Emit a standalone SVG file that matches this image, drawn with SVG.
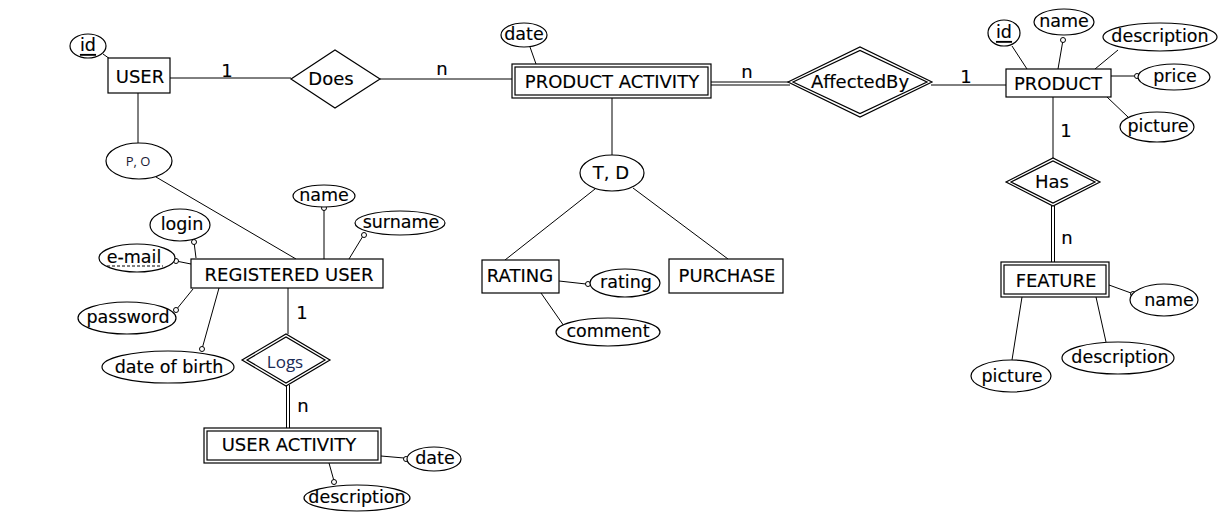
<svg xmlns="http://www.w3.org/2000/svg" width="1228" height="522" viewBox="0 0 1228 522">
<style>
.s{fill:#fff;stroke:#000;stroke-width:1.2}
.l{fill:none;stroke:#000;stroke-width:1}
.t{font-family:"DejaVu Sans",sans-serif;font-size:18px;fill:#000;stroke:#000;stroke-width:0.15;text-anchor:middle;dominant-baseline:central}
.a{font-family:"DejaVu Sans",sans-serif;font-size:17.5px;fill:#000;stroke:#000;stroke-width:0.15;text-anchor:middle;dominant-baseline:central}
.c{fill:#fff;stroke:#000;stroke-width:1}
</style>
<rect width="1228" height="522" fill="#fff"/>
<g id="connectors">
<line class="l" x1="170" y1="78" x2="291" y2="78"/>
<line class="l" x1="380" y1="79" x2="512" y2="79"/>
<line class="l" x1="711" y1="82" x2="790" y2="82"/>
<line class="l" x1="711" y1="85" x2="790" y2="85"/>
<line class="l" x1="931" y1="85" x2="1006" y2="85"/>
<line class="l" x1="1053" y1="97" x2="1053" y2="158"/>
<line class="l" x1="1051.5" y1="206" x2="1051.5" y2="262"/>
<line class="l" x1="1054.5" y1="206" x2="1054.5" y2="262"/>
<line class="l" x1="612" y1="98" x2="612" y2="155"/>
<line class="l" x1="595" y1="189" x2="505" y2="260"/>
<line class="l" x1="633" y1="188" x2="728" y2="259"/>
<line class="l" x1="138" y1="93" x2="138" y2="143"/>
<line class="l" x1="156" y1="177" x2="296" y2="259"/>
<line class="l" x1="288" y1="288" x2="288" y2="334"/>
<line class="l" x1="286.5" y1="385" x2="286.5" y2="428"/>
<line class="l" x1="289.5" y1="385" x2="289.5" y2="428"/>
<line class="l" x1="103" y1="54" x2="110" y2="59"/>
<line class="l" x1="530" y1="47" x2="536" y2="64"/>
<line class="l" x1="1012" y1="46" x2="1027" y2="69"/>
<line class="l" x1="1063" y1="40" x2="1058" y2="69"/>
<line class="l" x1="1118" y1="50" x2="1095" y2="69"/>
<line class="l" x1="1111" y1="76" x2="1134" y2="76"/>
<line class="l" x1="1107" y1="97" x2="1128" y2="117"/>
<line class="l" x1="1109" y1="285" x2="1131" y2="293"/>
<line class="l" x1="1096" y1="297" x2="1106" y2="342"/>
<line class="l" x1="1022" y1="297" x2="1012" y2="360"/>
<line class="l" x1="559" y1="281" x2="586" y2="284"/>
<line class="l" x1="541" y1="293" x2="564" y2="326"/>
<line class="l" x1="324" y1="209" x2="324" y2="259"/>
<line class="l" x1="363" y1="236" x2="349" y2="259"/>
<line class="l" x1="194" y1="242" x2="196" y2="258"/>
<line class="l" x1="176" y1="261" x2="191" y2="264"/>
<line class="l" x1="176" y1="310" x2="193" y2="289"/>
<line class="l" x1="202" y1="349" x2="219" y2="288"/>
<line class="l" x1="381" y1="456" x2="404" y2="458"/>
<line class="l" x1="329" y1="463" x2="334" y2="481"/>
<circle class="c" cx="1063" cy="40" r="2.5"/>
<circle class="c" cx="1137" cy="76" r="2.5"/>
<circle class="c" cx="1133" cy="294" r="2.5"/>
<circle class="c" cx="588" cy="284" r="2.5"/>
<circle class="c" cx="324" cy="208" r="2.5"/>
<circle class="c" cx="364" cy="235" r="2.5"/>
<circle class="c" cx="194" cy="242" r="2.5"/>
<circle class="c" cx="176" cy="261" r="2.5"/>
<circle class="c" cx="176" cy="310" r="2.5"/>
<circle class="c" cx="202" cy="349" r="2.5"/>
<circle class="c" cx="406" cy="459" r="2.5"/>
<circle class="c" cx="334" cy="482" r="2.5"/>
<text class="t" x="227" y="70">1</text>
<text class="t" x="442" y="68">n</text>
<text class="t" x="747" y="71">n</text>
<text class="t" x="966" y="76">1</text>
<text class="t" x="1066" y="130">1</text>
<text class="t" x="1067" y="237">n</text>
<text class="t" x="302" y="312">1</text>
<text class="t" x="303" y="405">n</text>
</g>
<g id="user">
<rect class="s" x="108" y="58" width="62" height="35"/>
<text class="t" x="140" y="76">USER</text>
</g>
<g id="user-id">
<ellipse class="s" cx="88" cy="46" rx="18" ry="12"/>
<text class="a" x="88" y="45" text-decoration="underline">id</text>
</g>
<g id="does">
<polygon class="s" points="291,79 335,50 380,79 335,108"/>
<text class="t" x="331" y="78">Does</text>
</g>
<g id="product-activity">
<rect class="s" x="512" y="64" width="199" height="34"/>
<rect class="s" x="515" y="67" width="193" height="28"/>
<text class="t" x="612" y="81">PRODUCT ACTIVITY</text>
</g>
<g id="pa-date">
<ellipse class="s" cx="524" cy="35" rx="23" ry="12"/>
<text class="a" x="524" y="34">date</text>
</g>
<g id="affectedby">
<polygon class="s" points="788,82 860,47 932,82 860,117"/>
<polygon class="s" points="793,82 860,50.5 927,82 860,113.5"/>
<text class="t" x="860" y="81">AffectedBy</text>
</g>
<g id="product">
<rect class="s" x="1006" y="69" width="105" height="28"/>
<text class="t" x="1058" y="83">PRODUCT</text>
</g>
<g id="product-id">
<ellipse class="s" cx="1004" cy="33" rx="16" ry="13"/>
<text class="a" x="1004" y="32" text-decoration="underline">id</text>
</g>
<g id="product-name">
<ellipse class="s" cx="1064" cy="22" rx="30" ry="13"/>
<text class="a" x="1064" y="21">name</text>
</g>
<g id="product-description">
<ellipse class="s" cx="1160" cy="37" rx="57" ry="14"/>
<text class="a" x="1160" y="36">description</text>
</g>
<g id="product-price">
<ellipse class="s" cx="1174" cy="77" rx="36" ry="13"/>
<text class="a" x="1175" y="76">price</text>
</g>
<g id="product-picture">
<ellipse class="s" cx="1157" cy="127" rx="37" ry="15"/>
<text class="a" x="1158" y="126">picture</text>
</g>
<g id="has">
<polygon class="s" points="1006,182 1053,158 1100,182 1053,206"/>
<polygon class="s" points="1011,182 1053,161 1095,182 1053,203"/>
<text class="t" x="1052" y="181">Has</text>
</g>
<g id="feature">
<rect class="s" x="1001" y="262" width="108" height="35"/>
<rect class="s" x="1004" y="265" width="102" height="29"/>
<text class="t" x="1056" y="280">FEATURE</text>
</g>
<g id="feature-name">
<ellipse class="s" cx="1164" cy="300" rx="34" ry="16"/>
<text class="a" x="1169" y="300">name</text>
</g>
<g id="feature-description">
<ellipse class="s" cx="1118" cy="358" rx="56" ry="16"/>
<text class="a" x="1120" y="357">description</text>
</g>
<g id="feature-picture">
<ellipse class="s" cx="1011" cy="376" rx="40" ry="16"/>
<text class="a" x="1012" y="376">picture</text>
</g>
<g id="td">
<ellipse class="s" cx="612" cy="173" rx="32" ry="18"/>
<text class="t" x="611" y="172">T, D</text>
</g>
<g id="rating">
<rect class="s" x="482" y="260" width="77" height="33"/>
<text class="t" x="520" y="275">RATING</text>
</g>
<g id="purchase">
<rect class="s" x="669" y="259" width="114" height="34"/>
<text class="t" x="727" y="275">PURCHASE</text>
</g>
<g id="rating-rating">
<ellipse class="s" cx="625" cy="283" rx="35" ry="14"/>
<text class="a" x="626" y="282">rating</text>
</g>
<g id="rating-comment">
<ellipse class="s" cx="608" cy="332" rx="52" ry="14"/>
<text class="a" x="608" y="331">comment</text>
</g>
<g id="po">
<ellipse class="s" cx="139" cy="161" rx="33" ry="18"/>
<text x="138" y="161" font-family="'Open Sans','DejaVu Sans',sans-serif" font-size="13" fill="#1a1a33" text-anchor="middle" dominant-baseline="central">P, O</text>
</g>
<g id="registered-user">
<rect class="s" x="191" y="259" width="192" height="29"/>
<text class="t" x="289" y="274">REGISTERED USER</text>
</g>
<g id="ru-name">
<ellipse class="s" cx="324" cy="196" rx="31" ry="11"/>
<text class="a" x="324" y="195">name</text>
</g>
<g id="ru-surname">
<ellipse class="s" cx="400" cy="223" rx="45" ry="12"/>
<text class="a" x="401" y="222">surname</text>
</g>
<g id="ru-login">
<ellipse class="s" cx="180" cy="225" rx="30" ry="16"/>
<text class="a" x="182" y="224">login</text>
</g>
<g id="ru-email">
<ellipse class="s" cx="137" cy="258" rx="38" ry="14"/>
<text class="a" x="134" y="257">e-mail</text>
<line x1="107" y1="266" x2="163" y2="266" stroke="#000" stroke-width="1" stroke-dasharray="3,2"/>
</g>
<g id="ru-password">
<ellipse class="s" cx="127" cy="318" rx="49" ry="16"/>
<text class="a" x="128" y="317">password</text>
</g>
<g id="ru-dob">
<ellipse class="s" cx="168" cy="367" rx="66" ry="16"/>
<text class="a" x="169" y="367">date of birth</text>
</g>
<g id="logs">
<polygon class="s" points="242,360 286,334 330,360 286,386"/>
<polygon class="s" points="247,360 286,337 325,360 286,383"/>
<text x="285" y="361" font-family="'Open Sans','Noto Sans',sans-serif" font-size="17" fill="#1a2a55" text-anchor="middle" dominant-baseline="central">Logs</text>
</g>
<g id="user-activity">
<rect class="s" x="204" y="428" width="177" height="35"/>
<rect class="s" x="207" y="431" width="171" height="29"/>
<text class="t" x="289" y="444">USER ACTIVITY</text>
</g>
<g id="ua-date">
<ellipse class="s" cx="434" cy="459" rx="27" ry="12"/>
<text class="a" x="435" y="458">date</text>
</g>
<g id="ua-description">
<ellipse class="s" cx="357" cy="498" rx="53" ry="13"/>
<text class="a" x="357" y="497">description</text>
</g>
</svg>
